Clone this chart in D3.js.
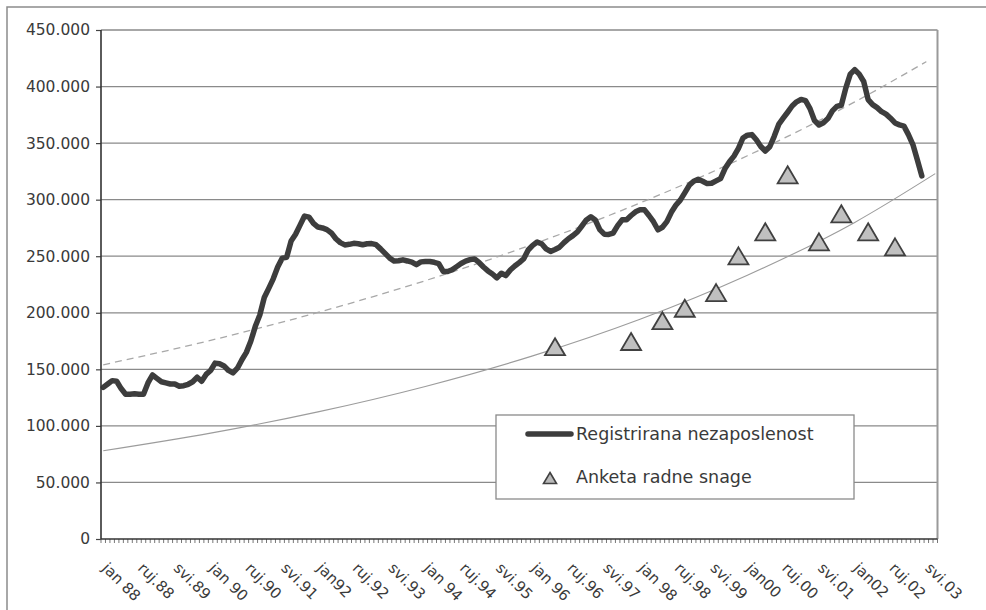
<!DOCTYPE html>
<html>
<head>
<meta charset="utf-8">
<script src="https://cdn.jsdelivr.net/npm/d3@7"></script>
<style>
  body { margin: 0; background: #fff; }
  svg { display: block; font-family: "DejaVu Sans", sans-serif; }
</style>
</head>
<body>
<svg width="986" height="610"></svg>
<script>
// registrirana nezaposlenost, monthly from jan 1988 (thousands)
var registered = [
  134, 137, 140, 139.5, 133, 128, 128, 128.4, 128, 128,
  138, 145, 142, 139, 138, 137, 137, 135, 135.5, 136.8,
  139, 143, 139.5, 145.5, 149, 155.5, 155, 153, 149, 146.8,
  151, 158.5, 165, 175, 188, 198, 213.5, 221.6, 230, 240.5,
  248.3, 249, 263.5, 269.5, 277.5, 285.5, 284.5, 279, 275.8, 275,
  273.5, 270.6, 265.5, 262, 260, 260.5, 261.4, 261, 260.1, 261,
  261.2, 260.2, 256.5, 252.5, 248.5, 245.7, 246, 246.8, 245.8, 244.7,
  242.5, 245, 245.3, 245.3, 244.6, 243.5, 236.6, 236.5, 238, 240.8,
  243.6, 245.7, 247, 247.6, 244.5, 240.5, 237, 234.3, 230.9, 234.9,
  232.9, 237.8, 241.3, 244.3, 247.8, 255.5, 259.6, 262.5, 261, 256.5,
  254.2, 256, 258, 262, 265.5, 268.2, 271.5, 276.7, 282.1, 284.8,
  282, 273.5, 269.5, 269.3, 270.5, 277, 282.2, 282.3, 286, 289.3,
  291, 291, 286, 280.5, 273.4, 275.6, 280.6, 288.8, 295, 299.6,
  306, 312.7, 316.3, 318, 316.3, 314.2, 314.5, 316.6, 318.6, 327.5,
  333.6, 338.5, 345.4, 354.5, 357, 357.5, 353, 347, 343, 346.8,
  356, 366.5, 372, 377.3, 382.8, 386.5, 388.6, 387.5, 380.5, 370,
  366, 368, 371.7, 378.5, 382.5, 383.5, 398.6, 411, 415, 411,
  404.5, 388.5, 384, 381.4, 377.8, 375.6, 372, 367.8, 366.1, 365,
  357.5, 348.7, 335, 321
];

// anketa radne snage
var surveyMonths = ["1996-06", "1997-11", "1998-06", "1998-11", "1999-06", "1999-11",
                    "2000-05", "2000-10", "2001-05", "2001-10", "2002-04", "2002-10"];
var surveyValues = [170, 174.6, 193, 204, 217.8, 250.3, 271.6, 322, 262.7, 287.5, 271.6, 258.3];

// trend lines
var trendRegMonths = ["1988-01", "1990-01", "1992-01", "1994-01", "1996-01", "1998-01", "2000-01", "2002-01", "2003-05"];
var trendRegValues = [154, 175.6, 200.3, 228.4, 260.5, 297.1, 338.8, 386.4, 422];
var trendSurveyMonths = ["1988-01", "1990-01", "1992-01", "1994-01", "1996-01", "1998-01", "2000-01", "2002-01", "2003-07"];
var trendSurveyValues = [78, 93.6, 112.4, 134.9, 161.9, 194.3, 233.2, 279.9, 323];

var tickMonths = ["1988-01", "1988-09", "1989-05", "1990-01", "1990-09", "1991-05", "1992-01", "1992-09",
                  "1993-05", "1994-01", "1994-09", "1995-05", "1996-01", "1996-09", "1997-05", "1998-01",
                  "1998-09", "1999-05", "2000-01", "2000-09", "2001-05", "2002-01", "2002-09", "2003-05"];
var tickLabels = ["jan 88", "ruj.88", "svi.89", "jan 90", "ruj.90", "svi.91", "jan92", "ruj.92",
                  "svi.93", "jan 94", "ruj.94", "svi.95", "jan 96", "ruj.96", "svi.97", "jan 98",
                  "ruj.98", "svi.99", "jan00", "ruj.00", "svi.01", "jan02", "ruj.02", "svi.03"];

var yTicks = [0, 50, 100, 150, 200, 250, 300, 350, 400, 450];

var svg = d3.select("svg"),
    margin = {top: 30, right: 48.5, bottom: 71, left: 101},
    width = +svg.attr("width") - margin.left - margin.right,
    height = +svg.attr("height") - margin.top - margin.bottom;

var fmtKey = d3.timeFormat("%Y-%m");
var months = d3.timeMonths(new Date(1988, 0, 1), new Date(2003, 7, 1)).map(fmtKey);

var x = d3.scaleBand().domain(months).range([0, width]),
    y = d3.scaleLinear().domain([0, 450]).range([height, 0]);

function xc(m) { return x(m) + x.bandwidth() / 2; }

var locale = d3.formatLocale({decimal: ",", thousands: ".", grouping: [3], currency: ["", " kn"]});
var fmtNum = locale.format(",");

// outer frame (only top and left edge are visible)
svg.append("path")
    .attr("d", "M7,610V7H986")
    .attr("fill", "none")
    .attr("stroke", "#8c8c8c")
    .attr("stroke-width", 1.5);

var focus = svg.append("g")
    .attr("transform", "translate(" + margin.left + "," + margin.top + ")");

// grid
focus.selectAll(".grid")
    .data(yTicks.filter(function(d) { return d > 0; }))
  .enter().append("line")
    .attr("class", "grid")
    .attr("x1", 0)
    .attr("x2", width)
    .attr("y1", function(d) { return y(d); })
    .attr("y2", function(d) { return y(d); })
    .attr("stroke", "#8a8a8a")
    .attr("stroke-width", 1.3);

focus.append("line")
    .attr("x1", width).attr("x2", width)
    .attr("y1", 0).attr("y2", height)
    .attr("stroke", "#9a9a9a")
    .attr("stroke-width", 2);

// trend lines
var trendLine = d3.line()
    .curve(d3.curveMonotoneX)
    .x(function(d) { return xc(d[0]); })
    .y(function(d) { return y(d[1]); });

focus.append("path")
    .datum(d3.zip(trendSurveyMonths, trendSurveyValues))
    .attr("d", trendLine)
    .attr("fill", "none")
    .attr("stroke", "#9c9c9c")
    .attr("stroke-width", 1.1);

focus.append("path")
    .datum(d3.zip(trendRegMonths, trendRegValues))
    .attr("d", trendLine)
    .attr("fill", "none")
    .attr("stroke", "#a8a8a8")
    .attr("stroke-width", 1.3)
    .attr("stroke-dasharray", "7,5");

// main line
var line = d3.line()
    .x(function(d, i) { return xc(months[i]); })
    .y(function(d) { return y(d); });

focus.append("path")
    .datum(registered)
    .attr("d", line)
    .attr("fill", "none")
    .attr("stroke", "#3d3d3d")
    .attr("stroke-width", 5.5)
    .attr("stroke-linejoin", "round")
    .attr("stroke-linecap", "round");

// triangles
function tri(w, h) {
  return "M0," + (-h / 2) + "L" + (w / 2) + "," + (h / 2) + "L" + (-w / 2) + "," + (h / 2) + "Z";
}

focus.selectAll(".tri")
    .data(d3.zip(surveyMonths, surveyValues))
  .enter().append("path")
    .attr("class", "tri")
    .attr("d", tri(20, 17))
    .attr("transform", function(d) { return "translate(" + xc(d[0]) + "," + y(d[1]) + ")"; })
    .attr("fill", "#c0c0c0")
    .attr("stroke", "#404040")
    .attr("stroke-width", 1.8);

// y axis
var yAxis = d3.axisLeft(y)
    .tickValues(yTicks)
    .tickSize(5)
    .tickPadding(6)
    .tickFormat(function(d) { return d === 0 ? "0" : fmtNum(d * 1000); });

var gy = focus.append("g").call(yAxis)
    .attr("font-family", null)
    .attr("font-size", null);
gy.select(".domain").remove();
gy.selectAll("line").attr("stroke", "#444").attr("stroke-width", 1.2);
gy.selectAll("text")
    .attr("fill", "#3a3a3a")
    .style("font-size", "15.5px");

focus.append("line")
    .attr("x1", 0).attr("x2", 0)
    .attr("y1", 0).attr("y2", height)
    .attr("stroke", "#333")
    .attr("stroke-width", 1.6);

// x axis: month ticks + labels
var gx = focus.append("g")
    .attr("transform", "translate(0," + height + ")");

gx.selectAll(".mtick")
    .data(months.concat([null]))
  .enter().append("line")
    .attr("class", "mtick")
    .attr("x1", function(d) { return d === null ? width : x(d); })
    .attr("x2", function(d) { return d === null ? width : x(d); })
    .attr("y1", 0)
    .attr("y2", 4)
    .attr("stroke", "#555")
    .attr("stroke-width", 0.8);

var xAxis = d3.axisBottom(x)
    .tickValues(tickMonths)
    .tickSize(0)
    .tickFormat(function(d, i) { return tickLabels[i]; });

var gxl = gx.append("g").call(xAxis)
    .attr("font-family", null)
    .attr("font-size", null);
gxl.select(".domain").remove();
gxl.selectAll("text")
    .attr("y", 0)
    .attr("dy", null)
    .attr("text-anchor", "start")
    .attr("transform", "translate(-2,30) rotate(45)")
    .attr("fill", "#3a3a3a")
    .style("font-size", "15px");

gx.append("line")
    .attr("x1", 0).attr("x2", width)
    .attr("stroke", "#333")
    .attr("stroke-width", 1.6);

// legend
var legend = svg.append("g")
    .attr("transform", "translate(496,415)");

legend.append("rect")
    .attr("width", 358)
    .attr("height", 84)
    .attr("fill", "#fff")
    .attr("stroke", "#8a8a8a")
    .attr("stroke-width", 1.3);

legend.append("line")
    .attr("x1", 32).attr("x2", 75)
    .attr("y1", 19).attr("y2", 19)
    .attr("stroke", "#3d3d3d")
    .attr("stroke-width", 5.5)
    .attr("stroke-linecap", "round");

legend.append("path")
    .attr("d", tri(13, 11))
    .attr("transform", "translate(54,63)")
    .attr("fill", "#b8b8b8")
    .attr("stroke", "#404040")
    .attr("stroke-width", 1.6);

legend.selectAll(".ltext")
    .data(["Registrirana nezaposlenost", "Anketa radne snage"])
  .enter().append("text")
    .attr("class", "ltext")
    .attr("x", 80)
    .attr("y", function(d, i) { return i === 0 ? 19 : 62; })
    .attr("dy", "0.35em")
    .attr("fill", "#3a3a3a")
    .style("font-size", "17.5px")
    .text(function(d) { return d; });
</script>
</body>
</html>
